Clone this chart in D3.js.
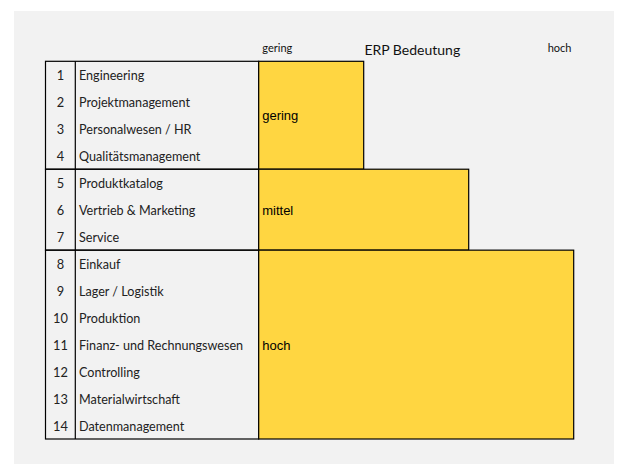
<!DOCTYPE html>
<html><head><meta charset="utf-8">
<script src="https://cdn.jsdelivr.net/npm/d3@7"></script>
<style>body{margin:0;background:#fff;}</style>
</head><body>
<svg id="c" width="636" height="476"></svg>
<script>
const rowNumbers = [1,2,3,4,5,6,7,8,9,10,11,12,13,14];
const rowLabels = ["Engineering","Projektmanagement","Personalwesen / HR","Qualitätsmanagement","Produktkatalog","Vertrieb & Marketing","Service","Einkauf","Lager / Logistik","Produktion","Finanz- und Rechnungswesen","Controlling","Materialwirtschaft","Datenmanagement"];
const groupNames = ["gering","mittel","hoch"];
const groupStart = [0,4,7];
const groupEnd = [4,7,14];
const groupValues = [1,2,3];
const axisTitle = "ERP Bedeutung";
const axisLow = "gering", axisHigh = "hoch";

const svg = d3.select("#c");
svg.append("rect").attr("x",14).attr("y",11).attr("width",600).attr("height",453).attr("fill","#f2f2f2");

const x0 = 258.7;
const x = d3.scaleLinear().domain([0,3]).range([x0, 573.7]);
const y = d3.scaleLinear().domain([0,14]).range([61.3, 439]);
const tableLeft = 45.5, numDiv = 75.3;

// table groups
groupNames.forEach((g,i)=>{
  svg.append("rect").attr("x",tableLeft).attr("y",y(groupStart[i]))
    .attr("width",x0-tableLeft).attr("height",y(groupEnd[i])-y(groupStart[i]))
    .attr("fill","none").attr("stroke","#000").attr("stroke-width",1.2);
});
svg.append("line").attr("x1",numDiv).attr("x2",numDiv).attr("y1",y(0)).attr("y2",y(14)).attr("stroke","#000").attr("stroke-width",1.2);

// bars
svg.selectAll("rect.bar").data(groupNames).enter().append("rect").attr("class","bar")
  .attr("x",x(0)).attr("y",(d,i)=>y(groupStart[i]))
  .attr("width",(d,i)=>x(groupValues[i])-x(0))
  .attr("height",(d,i)=>y(groupEnd[i])-y(groupStart[i]))
  .attr("fill","#FFD641").attr("stroke","#000").attr("stroke-width",1.2);

svg.selectAll("text.glab").data(groupNames).enter().append("text").attr("class","glab")
  .attr("x",x(0)+3.5).attr("y",(d,i)=>(y(groupStart[i])+y(groupEnd[i]))/2+5)
  .attr("font-family","Liberation Sans, Arial, sans-serif").attr("font-size",13).attr("fill","#000")
  .text(d=>d);

// rows
svg.selectAll("text.num").data(rowNumbers).enter().append("text").attr("class","num")
  .attr("x",(tableLeft+numDiv)/2).attr("y",(d,i)=>y(i+0.5)+5.3).attr("text-anchor","middle")
  .attr("font-family","Lato, sans-serif").attr("font-size",12.8).attr("fill","#222").text(d=>d);
svg.selectAll("text.lab").data(rowLabels).enter().append("text").attr("class","lab")
  .attr("x",79).attr("y",(d,i)=>y(i+0.5)+5.3)
  .attr("font-family","Lato, sans-serif").attr("font-size",12.6).attr("fill","#222").text(d=>d);

// header
svg.append("text").attr("x",262.3).attr("y",52).attr("font-family","Lato, sans-serif").attr("font-size",11).attr("fill","#111").text(axisLow);
svg.append("text").attr("x",412.3).attr("y",54.5).attr("text-anchor","middle").attr("font-family","Lato, sans-serif").attr("font-size",14).attr("fill","#111").text(axisTitle);
svg.append("text").attr("x",547.7).attr("y",52).attr("font-family","Lato, sans-serif").attr("font-size",11).attr("fill","#111").text(axisHigh);
</script>
</body></html>
